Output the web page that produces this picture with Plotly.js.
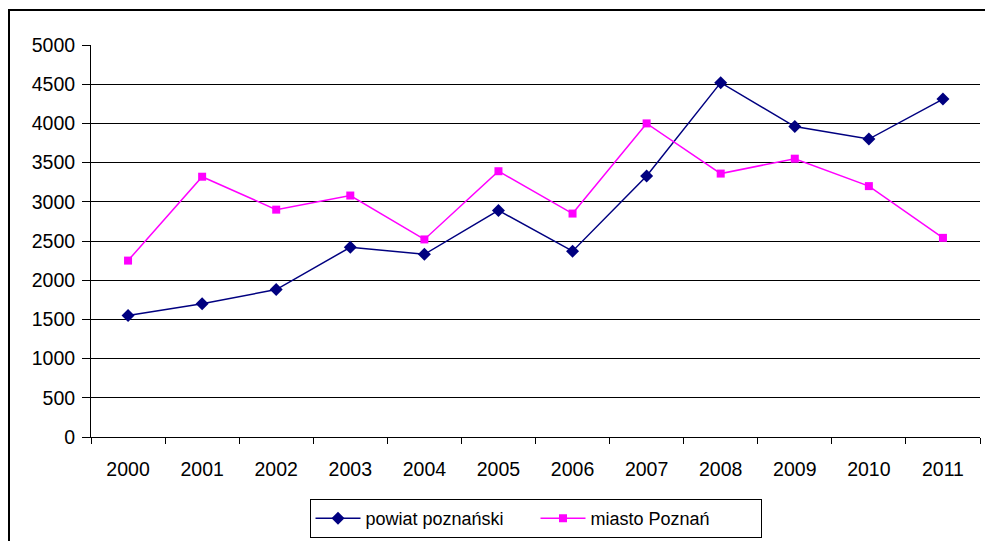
<!DOCTYPE html>
<html>
<head>
<meta charset="utf-8">
<script src="https://cdn.plot.ly/plotly-3.0.1.min.js"></script>
<style>html,body{margin:0;padding:0;background:#fff;}#chart{width:985px;height:541px;}</style>
</head>
<body>
<div id="chart"></div>
<script>
const years = ["2000","2001","2002","2003","2004","2005","2006","2007","2008","2009","2010","2011"];
const powiat = [1550, 1700, 1880, 2420, 2330, 2890, 2370, 3330, 4520, 3960, 3800, 4310];
const miasto = [2250, 3320, 2900, 3080, 2520, 3390, 2850, 4000, 3360, 3550, 3200, 2540];
const yTicks = [0, 500, 1000, 1500, 2000, 2500, 3000, 3500, 4000, 4500, 5000];

const fontFam = "Liberation Sans, Arial, sans-serif";

const traces = [
  {
    x: years, y: powiat, name: "powiat poznański", type: "scatter", mode: "lines+markers",
    line: {color: "#000080", width: 1.5},
    marker: {symbol: "diamond", size: 10, color: "#000080"}
  },
  {
    x: years, y: miasto, name: "miasto Poznań", type: "scatter", mode: "lines+markers",
    line: {color: "#FF00FF", width: 1.5},
    marker: {symbol: "square", size: 8, color: "#FF00FF"}
  }
];

const layout = {
  width: 985, height: 541,
  margin: {l: 91, r: 5, t: 45, b: 104, autoexpand: false},
  paper_bgcolor: "#fff", plot_bgcolor: "#fff",
  font: {family: fontFam, size: 19, color: "#000"},
  showlegend: true,
  legend: {
    orientation: "h", x: 0.5, xanchor: "center", y: -(499 - 437) / 392, yanchor: "top",
    bordercolor: "#000", borderwidth: 1, font: {family: fontFam, size: 18, color: "#000"},
    itemwidth: 45, entrywidth: 165, traceorder: "normal"
  },
  xaxis: {
    type: "category", range: [-0.5, 11.5], tickson: "boundaries", ticks: "outside", ticklen: 6, tickcolor: "#000",
    showline: true, linecolor: "#000", linewidth: 1, showgrid: false, zeroline: false,
    tickfont: {family: fontFam, size: 19.5, color: "#000"}, ticklabelstandoff: 15,
    automargin: false, fixedrange: true
  },
  yaxis: {
    range: [0, 5000], tickvals: yTicks, ticktext: yTicks.map(String),
    ticks: "outside", ticklen: 8, tickcolor: "#000",
    showline: true, linecolor: "#000", linewidth: 1,
    showgrid: true, gridcolor: "#000", gridwidth: 1, zeroline: false,
    tickfont: {family: fontFam, size: 19.5, color: "#000"}, ticklabelstandoff: 3,
    automargin: false, fixedrange: true
  },
  shapes: [
    {type: "rect", xref: "paper", yref: "paper",
     x0: (9 - 91) / 889, x1: 1.02, y0: -0.4, y1: (437 - 10) / 392,
     line: {color: "#000", width: 2}, fillcolor: "rgba(0,0,0,0)", layer: "below"}
  ]
};

Plotly.newPlot("chart", traces, layout, {displayModeBar: false, staticPlot: true});
</script>
</body>
</html>
